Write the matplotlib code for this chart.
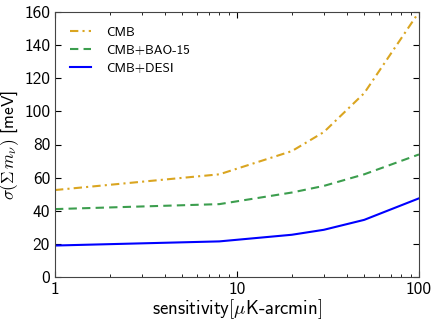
import numpy as np
import matplotlib
matplotlib.use("Agg")
import matplotlib.pyplot as plt

plt.rcParams['font.family'] = ['cmss10', 'DejaVu Sans']
plt.rcParams['mathtext.fontset'] = 'cm'
plt.rcParams['axes.unicode_minus'] = False
plt.rcParams['axes.formatter.use_mathtext'] = True

# noise levels and forecast errors on sum of neutrino masses
sens = [1, 8, 20, 30, 50, 100]
cmb = [52.5, 62, 76, 87.5, 111, 160]
cmb_bao = [41, 44, 51, 55, 62, 74]
cmb_desi = [19, 21.5, 25.5, 28.5, 34.5, 47.5]

fig = plt.figure(figsize=(4.36, 3.25), dpi=100)
ax = fig.add_axes([55/436, 1 - 277/325, 364/436, 265/325])

ax.plot(sens, cmb, color='#DAA520', ls='-.', dashes=(4, 2, 1, 2), lw=1.5, label='CMB')
ax.plot(sens, cmb_bao, color='#3C9E4E', ls='--', dashes=(4, 2.5), lw=1.5, label='CMB+BAO-15')
ax.plot(sens, cmb_desi, color='blue', ls='-', lw=1.5, label='CMB+DESI')

ax.set_xscale('log')
ax.set_xlim(1, 100)
ax.set_ylim(0, 160)
ax.set_xticks([1, 10, 100])
ax.set_xticklabels(['1', '10', '100'])
ax.set_yticks(np.arange(0, 161, 20))
ax.set_yticklabels([str(v) for v in range(0, 161, 20)])
ax.tick_params(which='both', direction='in', top=True, right=True, labelsize=12.5, pad=3.5)
ax.tick_params(which='major', length=4)
ax.tick_params(which='minor', length=2)
for s in ax.spines.values():
    s.set_color('#444444')

ax.set_xlabel(r'sensitivity$[\mu$K-arcmin$]$', fontsize=13.5, labelpad=0)
ax.set_ylabel(r'$\sigma(\Sigma\, m_\nu)$ [meV]', fontsize=12.5, labelpad=2)
ax.legend(loc='upper left', frameon=False, fontsize=9.5, handlelength=1.6,
          handletextpad=1.2, borderaxespad=0.7, labelspacing=0.45)

fig.savefig('out.png', dpi=100)
